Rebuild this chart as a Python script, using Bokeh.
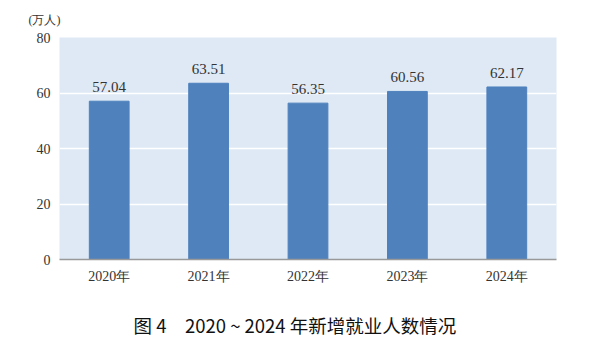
from bokeh.plotting import figure
from bokeh.models import ColumnDataSource, LabelSet, Title, FactorRange, Range1d, FixedTicker
from bokeh.embed import file_html
from bokeh.resources import INLINE

years = ["2020年", "2021年", "2022年", "2023年", "2024年"]
values = [57.04, 63.51, 56.35, 60.56, 62.17]
value_labels = ["57.04", "63.51", "56.35", "60.56", "62.17"]
y_ticks = [0, 20, 40, 60, 80]

src = ColumnDataSource(dict(x=years, top=values, lab=value_labels))

p = figure(x_range=FactorRange(*years), y_range=Range1d(0, 80),
           width=600, height=360, output_backend="svg", toolbar_location=None,
           min_border_left=59, min_border_right=44, min_border_top=37, min_border_bottom=101)
p.background_fill_color = "#dee9f5"
p.border_fill_color = "white"
p.outline_line_color = None

p.vbar(x="x", top="top", width=0.4, source=src, color="#4f81bd")

p.add_layout(LabelSet(x="x", y="top", text="lab", source=src, text_align="center",
                      text_baseline="bottom", y_offset=9, text_font="Liberation Serif",
                      text_font_size="15px", text_color="#333333"))

p.xgrid.grid_line_color = None
p.ygrid.grid_line_color = "white"
p.ygrid.grid_line_width = 1.5
p.yaxis.ticker = FixedTicker(ticks=y_ticks)
p.yaxis.axis_line_color = None
p.yaxis.major_tick_line_color = None
p.yaxis.minor_tick_line_color = None
p.yaxis.major_label_text_font = "Liberation Serif"
p.yaxis.major_label_text_font_size = "14px"
p.yaxis.major_label_text_color = "#333333"
p.yaxis.major_label_standoff = 3
p.xaxis.axis_line_color = "#999999"
p.xaxis.axis_line_width = 1.5
p.xaxis.major_tick_line_color = None
p.xaxis.major_label_text_font = "Liberation Serif"
p.xaxis.major_label_text_font_size = "14px"
p.xaxis.major_label_text_color = "#333333"
p.xaxis.major_label_standoff = 3

p.title.text = "(万人)"
p.title.align = "left"
p.title.offset = -31
p.title.text_font = "Liberation Serif"
p.title.text_font_size = "12px"
p.title.text_font_style = "normal"
p.title.text_color = "#333333"
p.title.standoff = 21

p.add_layout(Title(text="图 4　2020 ~ 2024 年新增就业人数情况", align="left", offset=74,
                   text_font="Noto Sans CJK SC", text_font_size="18.5px", text_color="#111111",
                   text_font_style="normal", standoff=46), "below")

open("out.html", "w").write(file_html(p, INLINE))
